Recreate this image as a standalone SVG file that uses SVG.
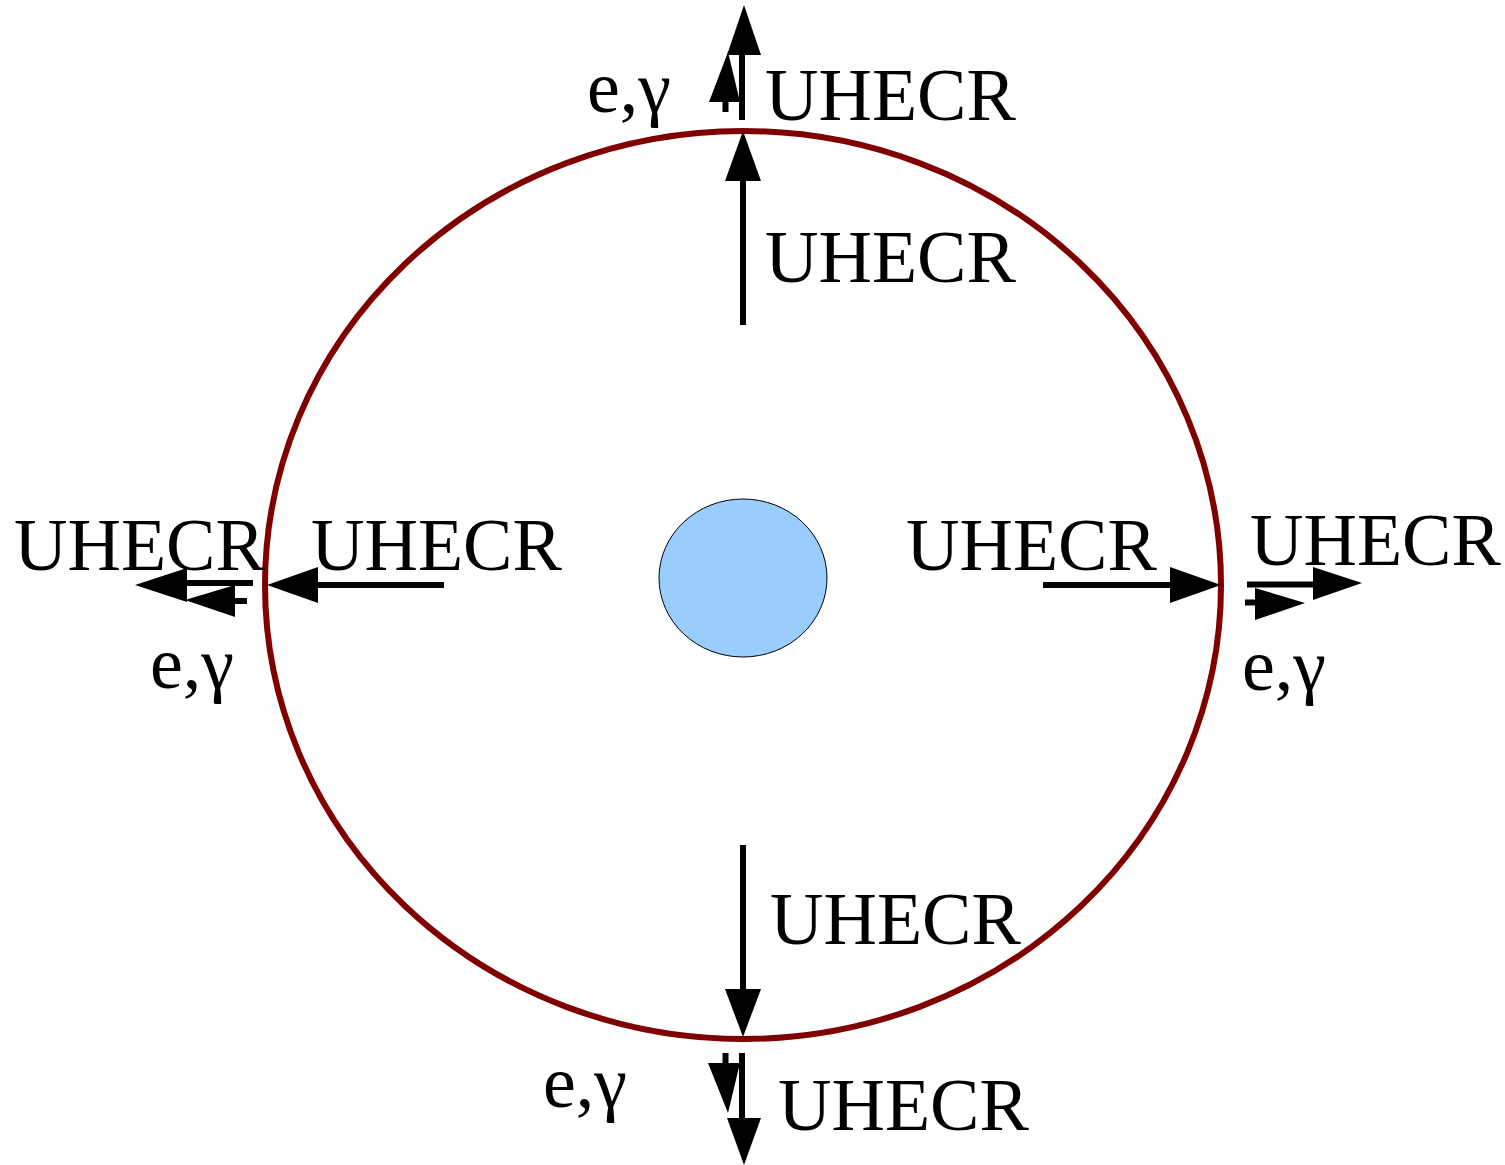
<svg xmlns="http://www.w3.org/2000/svg" width="1505" height="1165" viewBox="0 0 1505 1165">
<style>
.t{font-family:"Liberation Serif","Times New Roman",serif;font-size:74px;fill:#000}
.s{stroke:#000;stroke-width:6;fill:none}
.h{fill:#000;stroke:none}
</style>
<rect width="1505" height="1165" fill="#fff"/>
<g id="shell"><ellipse cx="743" cy="585" rx="478" ry="454" fill="none" stroke="#800000" stroke-width="6"/></g>
<g id="core"><ellipse cx="743" cy="578" rx="84" ry="79" fill="#99ccff" stroke="#000" stroke-width="1"/></g>
<g id="connectors">
<line class="s" x1="743" y1="325" x2="743" y2="175"/><polygon class="h" points="743,131 725,181 761,181"/>
<line class="s" x1="742" y1="120" x2="742" y2="50"/><polygon class="h" points="744,5 727,55 761,55"/>
<line class="s" x1="725.5" y1="112" x2="725.5" y2="98"/><polygon class="h" points="728,52 709,102 740,102"/>
<line class="s" x1="743" y1="845" x2="743" y2="995"/><polygon class="h" points="743,1037 725,989 761,989"/>
<line class="s" x1="742" y1="1053" x2="742" y2="1122"/><polygon class="h" points="744,1165 727,1118 761,1118"/>
<line class="s" x1="725.5" y1="1053" x2="725.5" y2="1067"/><polygon class="h" points="728,1113 708,1063 740,1063"/>
<line class="s" x1="444" y1="585" x2="310" y2="585"/><polygon class="h" points="267,585 318,567 318,603"/>
<line class="s" x1="253" y1="583" x2="182" y2="583"/><polygon class="h" points="135,585 187,568 187,602"/>
<line class="s" x1="247" y1="601" x2="231" y2="601"/><polygon class="h" points="185,600 235,585 235,617"/>
<line class="s" x1="1043" y1="585" x2="1176" y2="585"/><polygon class="h" points="1221,585 1170,567 1170,603"/>
<line class="s" x1="1247" y1="584.5" x2="1318" y2="584.5"/><polygon class="h" points="1362,583 1313,567 1313,600"/>
<line class="s" x1="1245" y1="602.5" x2="1259" y2="602.5"/><polygon class="h" points="1305,603 1255,588 1255,620"/>
</g>
<g id="labels">
<text class="t" x="765" y="120">UHECR</text>
<text class="t" x="765" y="282">UHECR</text>
<text class="t" x="14" y="570">UHECR</text>
<text class="t" x="311" y="570">UHECR</text>
<text class="t" x="906" y="570">UHECR</text>
<text class="t" x="1250" y="565">UHECR</text>
<text class="t" x="770" y="944">UHECR</text>
<text class="t" x="778" y="1130">UHECR</text>
<text class="t" x="587" y="112">e,γ</text>
<text class="t" x="150" y="688">e,γ</text>
<text class="t" x="1242" y="690">e,γ</text>
<text class="t" x="543" y="1107">e,γ</text>
</g>
</svg>
